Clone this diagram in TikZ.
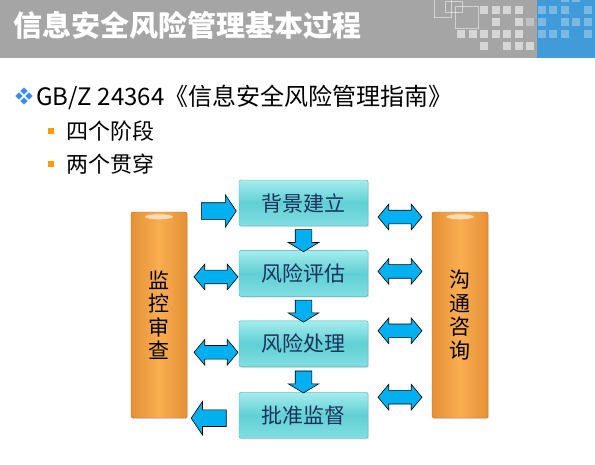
\documentclass[tikz,border=0pt]{standalone}
\usepackage{fontspec}
\setmainfont{Noto Sans CJK SC}
\usetikzlibrary{shapes.arrows, shadows, positioning, calc}

\definecolor{titlegray}{RGB}{165,165,165}
\definecolor{titleblue}{RGB}{66,155,217}
\definecolor{bulletblue}{RGB}{59,142,234}
\definecolor{bulletorange}{RGB}{255,153,0}
\definecolor{tealtop}{RGB}{165,236,238}
\definecolor{tealmid}{RGB}{96,208,212}
\definecolor{tealbot}{RGB}{130,222,226}
\definecolor{tealedge}{RGB}{72,176,182}
\definecolor{boxtext}{RGB}{28,50,92}
\definecolor{barmid}{RGB}{250,174,80}
\definecolor{baredge}{RGB}{228,144,54}
\definecolor{arrowfill}{RGB}{0,176,240}

\tikzset{
  stage/.style={draw=tealedge, rounded corners=2pt, top color=tealtop, bottom color=tealbot, middle color=tealmid,
    minimum width=129pt, minimum height=46pt, inner sep=0pt, text=boxtext, font=\fontsize{21}{21}\selectfont,
    drop shadow={opacity=0.25, shadow xshift=1pt, shadow yshift=-1.2pt}},
  sidebar/.style={draw=baredge!80!black, rounded corners=2pt, left color=baredge, right color=baredge, middle color=barmid,
    minimum width=56pt, minimum height=206pt, inner sep=0pt, align=center, font=\fontsize{21}{23.5}\selectfont,
    drop shadow={opacity=0.25, shadow xshift=1pt, shadow yshift=-1.2pt}},
  blockarr/.style={draw=black, line width=0.6pt, fill=arrowfill, inner xsep=0pt},
  fwdarr/.style={blockarr, single arrow, inner ysep=8pt, single arrow head extend=8pt, single arrow tip angle=112,
    minimum height=35pt},
  downarr/.style={blockarr, single arrow, inner ysep=8pt, single arrow head extend=7pt, single arrow tip angle=118,
    minimum height=22pt, rotate=-90},
  twoway/.style={blockarr, double arrow, inner ysep=6.5pt, double arrow head extend=6pt, double arrow tip angle=100,
    minimum height=44pt},
}

\begin{document}
\begin{tikzpicture}[x=1pt, y=-1pt]
\useasboundingbox[fill=white] (0,0) rectangle (595,464);

% title bar
\fill[titlegray] (0,0) rectangle (595,58);
\fill[titleblue] (537,0) rectangle (595,58);
\begin{scope}
  \clip (0,0) rectangle (595,58);
  \draw[white, opacity=0.5, line width=0.8pt] (434,-1) rectangle (451,17);
  \draw[white, opacity=0.5, line width=0.8pt] (445,1) rectangle (462,12);
  \draw[white, opacity=0.5, line width=0.8pt] (455,6) rectangle (478,28);
  \foreach \c/\r in {2/0,3/0,4/0,5/0,3/1,5/1,0/2,1/2,2/2,3/2,4/2,5/2,2/3,4/3,5/3,6/3}
    \fill[white, opacity=0.55] ({457+11.5*\c},{6+12*\r}) rectangle +(8,8);
  \fill[white, opacity=0.3] (526,18) rectangle +(8,8);
  \foreach \c/\r in {2/-1,3/-1,0/0,1/0,2/0,4/0,0/1,2/1,3/1,4/1,0/2,1/2,2/2,4/2}
    \fill[white, opacity=0.3] ({537.7+11.5*\c},{6+12*\r}) rectangle +(8,8);
\end{scope}
\node[anchor=west, inner sep=0pt, text=white, font=\fontsize{29}{29}\selectfont\bfseries] (title) at (13,25) {信息安全风险管理基本过程};

% bullets
\foreach \dx/\dy in {0/-5,5/0,0/5,-5/0}
  \fill[bulletblue] ({24+\dx},{96+\dy}) +(0,-3.6) -- +(3.6,0) -- +(0,3.6) -- +(-3.6,0) -- cycle;
\node[anchor=west, inner sep=0pt, font=\fontsize{24}{24}\selectfont] (std) at (36,97) {GB/Z 24364《信息安全风险管理指南》};
\fill[bulletorange] (48,128) rectangle (54,134);
\node[anchor=west, inner sep=0pt, font=\fontsize{22}{22}\selectfont] (four) at (66,131) {四个阶段};
\fill[bulletorange] (48,161) rectangle (54,167);
\node[anchor=west, inner sep=0pt, font=\fontsize{22}{22}\selectfont] (two) at (66,164) {两个贯穿};

% four stages
\node[stage] (bg) at (303.5,203) {背景建立};
\node[stage, below=24pt of bg] (ra) {风险评估};
\node[stage, below=24pt of ra] (rt) {风险处理};
\node[stage, below=25pt of rt] (ap) {批准监督};

% two side bars
\node[sidebar] (mon) at (159,315) {监\\控\\审\\查};
\node[sidebar] (com) at (460,315) {沟\\通\\咨\\询};
\fill[white, opacity=0.6] ($(mon.north)+(0,5)$) ellipse (14 and 2.5);
\fill[white, opacity=0.6] ($(com.north)+(0,5)$) ellipse (14 and 2.5);

% flow between stages
\foreach \a/\b in {bg/ra, ra/rt, rt/ap}
  \node[downarr] (d-\a) at ($(\a.south)!0.5!(\b.north)$) {};

% monitoring side
\node[fwdarr, xshift=3pt, yshift=-8pt] (in-bg) at ($(mon.east |- bg.west)!0.5!(bg.west)$) {};
\node[twoway, xshift=3pt, yshift=-3.5pt] (l-ra) at ($(mon.east |- ra.west)!0.5!(ra.west)$) {};
\node[twoway, xshift=3pt, yshift=-8.5pt] (l-rt) at ($(mon.east |- rt.west)!0.5!(rt.west)$) {};
\node[fwdarr, rotate=180, single arrow head extend=8.5pt, xshift=1.5pt, yshift=3pt] (out-ap) at ($(mon.east |- ap.west)!0.5!(ap.west)$) {};

% communication side
\node[twoway, yshift=-14pt] (r-bg) at ($(bg.east)!0.5!(com.west |- bg.east)$) {};
\node[twoway, yshift=2pt] (r-ra) at ($(ra.east)!0.5!(com.west |- ra.east)$) {};
\node[twoway, yshift=13pt] (r-rt) at ($(rt.east)!0.5!(com.west |- rt.east)$) {};
\node[twoway, yshift=18pt] (r-ap) at ($(ap.east)!0.5!(com.west |- ap.east)$) {};
\end{tikzpicture}
\end{document}
